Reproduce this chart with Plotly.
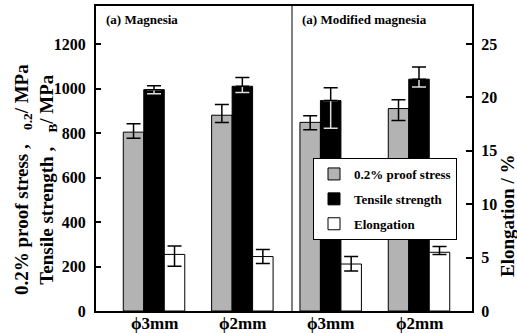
import plotly.graph_objects as go

# ---- data ----
categories = ["ϕ3mm", "ϕ2mm", "ϕ3mm", "ϕ2mm"]
proof_stress = [804, 880, 848, 910]
proof_err_plus = [38, 48, 30, 40]
proof_err_minus = [27, 33, 33, 54]
tensile = [995, 1010, 946, 1042]
tensile_err_plus = [18, 40, 58, 55]
tensile_err_minus = [18, 28, 124, 35]
elongation = [5.3, 5.1, 4.4, 5.5]
elong_err_plus = [0.8, 0.65, 0.7, 0.55]
elong_err_minus = [1.1, 0.65, 0.65, 0.2]
panel_labels = ["(a) Magnesia", "(a) Modified magnesia"]
left_ticks = [0, 200, 400, 600, 800, 1000, 1200]
right_ticks = [0, 5, 10, 15, 20, 25]

xpos = list(range(len(categories)))
FONT = "Liberation Serif"
BW = 0.232
lw = 1

def b(s):
    return "<b>" + str(s) + "</b>"

fig = go.Figure()

fig.add_trace(go.Bar(
    x=xpos, y=proof_stress, width=BW, offset=-1.5 * BW,
    marker=dict(color="#b3b3b3", line=dict(color="black", width=lw)),
    error_y=dict(type="data", symmetric=False, array=proof_err_plus,
                 arrayminus=proof_err_minus, color="black", thickness=1.5, width=7),
    name=b("0.2% proof stress"), legendgroup="a", yaxis="y",
))
fig.add_trace(go.Bar(
    x=xpos, y=tensile, width=BW, offset=-0.5 * BW,
    marker=dict(color="black", line=dict(color="black", width=lw)),
    name=b("Tensile strength"), legendgroup="b", yaxis="y",
))
# inner (lower) part of the tensile error bars, light on the black bar
fig.add_trace(go.Bar(
    x=xpos, y=tensile, width=BW, offset=-0.5 * BW,
    marker=dict(color="rgba(0,0,0,0)", line=dict(width=0)),
    error_y=dict(type="data", symmetric=False, array=[0] * len(tensile),
                 arrayminus=tensile_err_minus, color="#dcdcdc", thickness=1.5, width=7),
    showlegend=False, hoverinfo="skip", yaxis="y",
))
# upper part of the tensile error bars
fig.add_trace(go.Bar(
    x=xpos, y=tensile, width=BW, offset=-0.5 * BW,
    marker=dict(color="rgba(0,0,0,0)", line=dict(width=0)),
    error_y=dict(type="data", symmetric=False, array=tensile_err_plus,
                 arrayminus=[0] * len(tensile), color="black", thickness=1.5, width=7),
    showlegend=False, hoverinfo="skip", yaxis="y",
))
fig.add_trace(go.Bar(
    x=xpos, y=elongation, width=BW, offset=0.5 * BW,
    marker=dict(color="white", line=dict(color="black", width=lw)),
    error_y=dict(type="data", symmetric=False, array=elong_err_plus,
                 arrayminus=elong_err_minus, color="black", thickness=1.5, width=7),
    name=b("Elongation"), legendgroup="c", yaxis="y2",
))

W, H = 517, 333
L, R, T, B = 96, 472, 6, 311

def px_x(p):
    return (p - L) / (R - L)

def px_y(p):
    return (B - p) / (B - T)

annotations = [
    dict(text=b(panel_labels[0]), xref="paper", yref="paper",
         x=px_x(104), y=px_y(19), xanchor="left", yanchor="middle",
         showarrow=False, font=dict(family=FONT, size=13)),
    dict(text=b(panel_labels[1]), xref="paper", yref="paper",
         x=px_x(300), y=px_y(19), xanchor="left", yanchor="middle",
         showarrow=False, font=dict(family=FONT, size=13)),
    dict(text="<b>0.2% proof stress ,   <sub>0.2</sub>/ MPa</b><br><b>Tensile strength ,   <sub>B</sub>/ MPa</b>",
         xref="paper", yref="paper", x=px_x(35), y=px_y(180),
         xanchor="center", yanchor="middle", textangle=-90, showarrow=False,
         font=dict(family=FONT, size=19)),
    dict(text=b("Elongation / %"), xref="paper", yref="paper",
         x=px_x(507), y=px_y(216), xanchor="center", yanchor="middle",
         textangle=-90, showarrow=False,
         font=dict(family=FONT, size=19)),
]
# category labels under the axis
for xv, cat in zip(xpos, categories):
    annotations.append(dict(
        text=b(cat), xref="x", yref="paper", x=xv, y=0,
        xanchor="center", yanchor="top", yshift=-1, showarrow=False,
        font=dict(family=FONT, size=17)))

fig.update_layout(
    width=W, height=H,
    margin=dict(l=L, r=W - R, t=T, b=H - B, autoexpand=False),
    paper_bgcolor="white", plot_bgcolor="white",
    barmode="overlay",
    showlegend=True,
    font=dict(family=FONT, color="black"),
    xaxis=dict(
        range=[-0.657, 3.6], tickvals=xpos, showticklabels=False,
        showgrid=False, zeroline=False, showline=True, linecolor="black",
        linewidth=2, mirror=True, ticks="", automargin=False,
    ),
    yaxis=dict(
        range=[0, 1371], tickvals=left_ticks, ticktext=[b(t) for t in left_ticks],
        showgrid=False, zeroline=False, showline=True, linecolor="black",
        linewidth=2, ticks="inside", ticklen=5, tickwidth=2, tickcolor="black",
        tickfont=dict(family=FONT, size=16), automargin=False,
        ticklabelstandoff=5,
    ),
    yaxis2=dict(
        range=[0, 28.57], tickvals=right_ticks, ticktext=[b(t) for t in right_ticks],
        overlaying="y", side="right",
        showgrid=False, zeroline=False, showline=True, linecolor="black",
        linewidth=2, ticks="inside", ticklen=6, tickwidth=2, tickcolor="black",
        tickfont=dict(family=FONT, size=16), automargin=False,
        ticklabelstandoff=4,
    ),
    legend=dict(
        x=px_x(313), y=px_y(158), xanchor="left", yanchor="top",
        bgcolor="white", bordercolor="black", borderwidth=1,
        font=dict(family=FONT, size=13),
        traceorder="grouped", tracegroupgap=5,
    ),
    shapes=[dict(type="line", xref="paper", yref="paper",
                 x0=px_x(292), x1=px_x(292), y0=0, y1=1,
                 line=dict(color="black", width=1))],
    annotations=annotations,
)

fig.write_html("out.html")
